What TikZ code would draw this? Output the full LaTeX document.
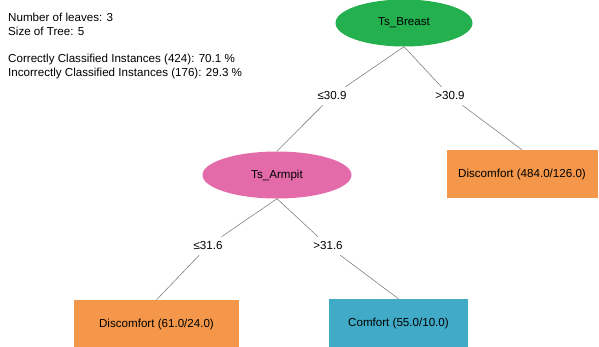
\documentclass[tikz,border=0pt]{standalone}
\usepackage{fontspec}
\setmainfont{Liberation Sans}
\usepackage{xcolor}
\usetikzlibrary{shapes.geometric,positioning}
\definecolor{wkgreen}{RGB}{37,176,80}
\definecolor{wkpink}{RGB}{227,107,170}
\definecolor{wkorange}{RGB}{244,151,74}
\definecolor{wkteal}{RGB}{65,171,199}
\definecolor{wkline}{RGB}{130,130,130}

\begin{document}
\begin{tikzpicture}[
  x=1pt, y=-1pt,
  font=\fontsize{11.6}{14}\selectfont,
  split/.style={ellipse, inner sep=0pt, minimum height=47pt},
  leaf/.style={rectangle, inner sep=0pt, minimum height=48pt, fill=wkorange},
  cond/.style={inner sep=5pt},
  edge/.style={draw=wkline, line width=0.6pt}
]
\useasboundingbox (0,0) rectangle (599,346);
% summary
\node[anchor=north west, align=left, inner sep=0pt] (info) at (8,13)
  {Number of leaves: 3\\Size of Tree: 5\\[13pt]Correctly Classified Instances (424): 70.1 \%\\Incorrectly Classified Instances (176): 29.3 \%};
% tree
\node[split, fill=wkgreen, minimum width=137pt] (breast) at (404,23) {Ts\_Breast};
\node[split, fill=wkpink, minimum width=149pt] (armpit) at (277,175) {Ts\_Armpit};
\node[leaf, minimum width=151pt] (dis1) at (522,174) {Discomfort (484.0/126.0)};
\node[leaf, minimum width=165pt] (dis2) at (156.5,324) {Discomfort (61.0/24.0)};
\node[leaf, minimum width=139pt, fill=wkteal] (com) at (398.5,323) {Comfort (55.0/10.0)};
% branch labels
\node[cond] (le1) at (332,96) {≤30.9};
\node[cond] (gt1) at (450,96) {>30.9};
\node[cond] (le2) at (208,246) {≤31.6};
\node[cond] (gt2) at (328,246) {>31.6};
\draw[edge] (breast.south) -- (le1);
\draw[edge] (le1) -- (armpit.north);
\draw[edge] (breast.south) -- (gt1);
\draw[edge] (gt1) -- (dis1.north);
\draw[edge] (armpit.south) -- (le2);
\draw[edge] (le2) -- (dis2.north);
\draw[edge] (armpit.south) -- (gt2);
\draw[edge] (gt2) -- (com.north);
\end{tikzpicture}
\end{document}
